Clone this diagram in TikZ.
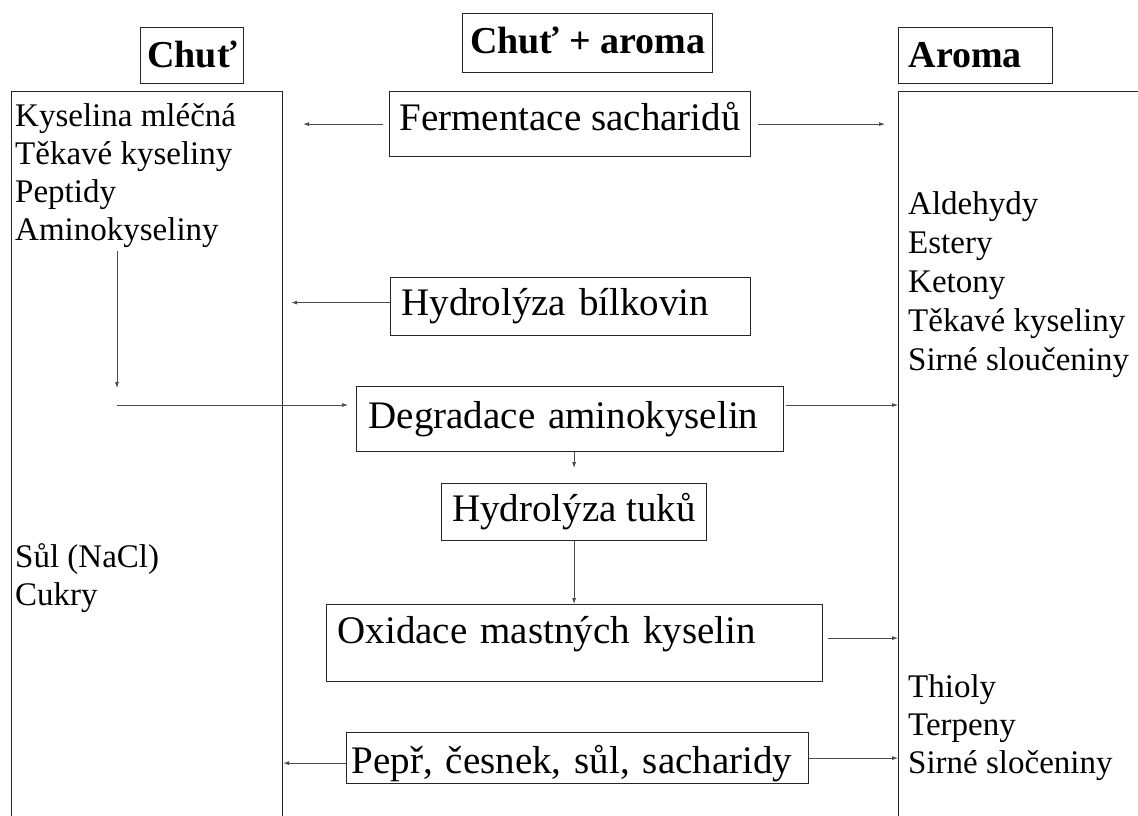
\documentclass[tikz,border=0pt]{standalone}
\usepackage{fontspec}
\setmainfont{Liberation Serif}
\usetikzlibrary{arrows.meta}
\newcommand\boxfont{\fontsize{39}{45}\selectfont}
\newcommand\listfont{\fontsize{33}{38}\selectfont}
\newcommand\headfont{\fontsize{38}{44}\selectfont\bfseries}
\tikzset{
  frame/.style={draw=black!85, line width=1.2pt, inner sep=0pt, anchor=north west,
    align=left, text height=27pt, text depth=9pt, font=\boxfont},
  head/.style={frame, font=\headfont, text height=26pt, text depth=2pt},
  column/.style={draw=black!85, line width=1.2pt, anchor=north west, minimum height=760},
  item/.style={anchor=base west, inner sep=0pt, font=\listfont},
  arr/.style={draw=black!70, line width=0.7pt, -{Latex[length=6pt,width=4pt]}}
}

\begin{document}
\begin{tikzpicture}[x=1pt,y=-1pt]
\useasboundingbox (0,0) rectangle (1138,816);
\clip (0,0) rectangle (1138,816);

\node[head, minimum width=103, minimum height=56] (chuthead) at (140,27) {Chuť};
\node[head, minimum width=250, minimum height=59, text depth=5pt] (mixhead) at (462,13) {Chuť + aroma};
\node[head, minimum height=56, text width=134pt, inner xsep=10pt] (aromahead) at (898,27) {Aroma};

\node[column, minimum width=271] (chut) at (11,91) {};
\node[column, minimum width=260] (arom) at (898,91) {};

\foreach \t [count=\i] in {Kyselina mléčná, Těkavé kyseliny, Peptidy, Aminokyseliny}
  \node[item] (k\i) at (15,{126+38*(\i-1)}) {\t};
\foreach \t [count=\i] in {{Sůl (NaCl)}, Cukry}
  \node[item] (s\i) at (15,{567+38*(\i-1)}) {\t};
\foreach \t [count=\i] in {Aldehydy, Estery, Ketony, Těkavé kyseliny, Sirné sloučeniny}
  \node[item] (a\i) at (908,{214+39*(\i-1)}) {\t};
\foreach \t [count=\i] in {Thioly, Terpeny, Sirné sločeniny}
  \node[item] (t\i) at (908,{697+38*(\i-1)}) {\t};

\node[frame, minimum width=361, minimum height=65, text depth=14pt] (ferm) at (389,91) {Fermentace sacharidů};
\node[frame, minimum height=58, text width=338pt, inner xsep=11pt] (hbil) at (390,277) {Hydrolýza bílkovin};
\node[frame, minimum height=65, text width=403pt, inner xsep=12pt] (deg) at (356,386) {Degradace aminokyselin};
\node[frame, minimum width=265, minimum height=57] (htuk) at (441,483) {Hydrolýza tuků};
\node[frame, minimum height=77, text width=474pt, inner xsep=11pt, text depth=26pt] (oxid) at (326,604) {Oxidace mastných kyselin};
\node[frame, minimum height=51, text width=452pt, inner xsep=5pt, text height=40pt] (pepr) at (346,732) {Pepř, česnek, sůl, sacharidy};

\coordinate (turn) at (k4.south |- 0,405);

\draw[arr, shorten <=6pt, shorten >=20pt] (ferm.west) -- (ferm.west -| chut.east);
\draw[arr, shorten <=7pt, shorten >=13pt] (ferm.east) -- (ferm.east -| arom.west);
\draw[arr, shorten >=8pt] ([yshift=4pt]hbil.west) -- ([yshift=4pt]hbil.west -| chut.east);
\draw[arr, shorten <=4pt, shorten >=17pt] (k4.south) -- (turn);
\draw[arr, shorten >=8pt] (turn) -- (turn -| deg.west);
\draw[arr, shorten <=2pt] (turn -| deg.east) -- (turn -| arom.west);
\draw[arr, shorten >=15pt] (htuk.north |- deg.south) -- (htuk.north);
\draw[arr] (htuk.south) -- (htuk.south |- oxid.north);
\draw[arr, shorten <=5pt] ([yshift=5pt]oxid.east) -- ([yshift=5pt]oxid.east -| arom.west);
\draw[arr] ([yshift=-5pt]pepr.west) -- ([yshift=-5pt]pepr.west -| chut.east);
\draw[arr] (pepr.east) -- (pepr.east -| arom.west);
\end{tikzpicture}
\end{document}
